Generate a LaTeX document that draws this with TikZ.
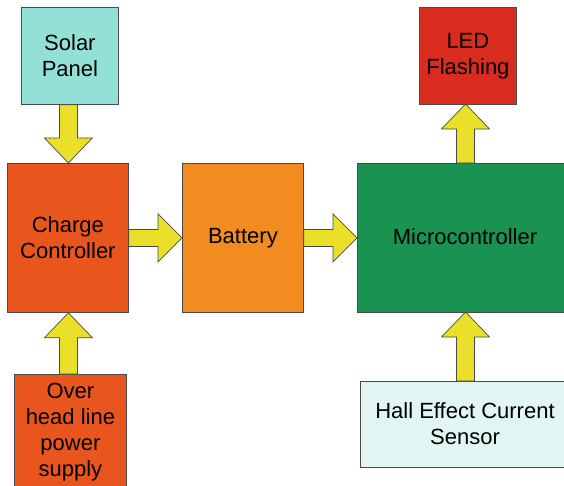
\documentclass[tikz,border=0pt]{standalone}
\usepackage{fontspec}
\setmainfont{Liberation Sans}
\usetikzlibrary{calc}
\definecolor{solarc}{HTML}{93E0D7}
\definecolor{chargec}{HTML}{E9561D}
\definecolor{battc}{HTML}{F28C20}
\definecolor{microc}{HTML}{1A9252}
\definecolor{ledc}{HTML}{D92B1E}
\definecolor{hallc}{HTML}{E1F5F3}
\definecolor{arrc}{HTML}{EAE02A}
\definecolor{edgec}{HTML}{4A4A4A}
\tikzset{
  box/.style={draw=edgec, line width=0.8pt, rectangle, anchor=north west, inner sep=0pt,
    align=center, font=\fontsize{22}{26}\selectfont},
  lbl/.style={align=center, font=\fontsize{22}{26}\selectfont, inner sep=0pt},
  blk/.style={draw=edgec, fill=arrc, line width=0.7pt, line join=miter},
}
\newcommand\arrV[2]{\draw[blk] let \p1=(#1), \p2=(#2), \n1={sign(\y2-\y1)} in
  (\x1-9pt,\y1) -- (\x1-9pt,{\y2-\n1*25pt}) -- (\x1-24pt,{\y2-\n1*25pt}) -- (\x1,\y2)
  -- (\x1+24pt,{\y2-\n1*25pt}) -- (\x1+9pt,{\y2-\n1*25pt}) -- (\x1+9pt,\y1) -- cycle;}
\newcommand\arrH[2]{\draw[blk] let \p1=(#1), \p2=(#2) in
  (\x1,\y1-8.5pt) -- (\x2-24pt,\y1-8.5pt) -- (\x2-24pt,\y1-24pt) -- (\x2,\y1)
  -- (\x2-24pt,\y1+24pt) -- (\x2-24pt,\y1+8.5pt) -- (\x1,\y1+8.5pt) -- cycle;}
\begin{document}
\begin{tikzpicture}[x=1pt,y=-1pt]
\useasboundingbox (0,0) rectangle (564,485);
\clip (0,0) rectangle (564,485);
\fill[white] (0,0) rectangle (564,485);
% boxes
\node[box, fill=solarc, minimum width=97, minimum height=97] (sp) at (21,7) {Solar\\Panel};
\node[box, fill=chargec, minimum width=121, minimum height=149] (cc) at (7,163) {Charge\\Controller};
\node[box, fill=battc, minimum width=121, minimum height=149] (bt) at (182,163) {Battery};
\node[box, fill=microc, minimum width=215, minimum height=149] (mc) at (357,163) {};
\node[lbl] (mct) at (465,236.5) {Microcontroller};
\node[box, fill=ledc, minimum width=97, minimum height=97] (led) at (419,7) {LED\\Flashing};
\node[box, fill=chargec, minimum width=112, minimum height=115] (oh) at (14,374) {Over\\head line\\power\\supply};
\node[box, fill=hallc, minimum width=212, minimum height=86] (hs) at (360,381) {};
\node[lbl] (hst) at (465,424) {Hall Effect Current\\Sensor};
% arrows
\coordinate (a1) at ($(sp.south)+(-1.5,0)$);
\coordinate (a1e) at ($(cc.north)+(0.5,0)$);
\arrV{a1}{a1e}
\arrH{cc.east}{bt.west}
\arrH{bt.east}{mc.west}
\coordinate (a4) at ($(oh.north)+(-2,0)$);
\arrV{a4}{cc.south}
\coordinate (a5) at (465.5,163);
\coordinate (a5e) at (465.5,104);
\arrV{a5}{a5e}
\coordinate (a6) at (465.5,381);
\coordinate (a6e) at (465.5,312);
\arrV{a6}{a6e}
\end{tikzpicture}
\end{document}
